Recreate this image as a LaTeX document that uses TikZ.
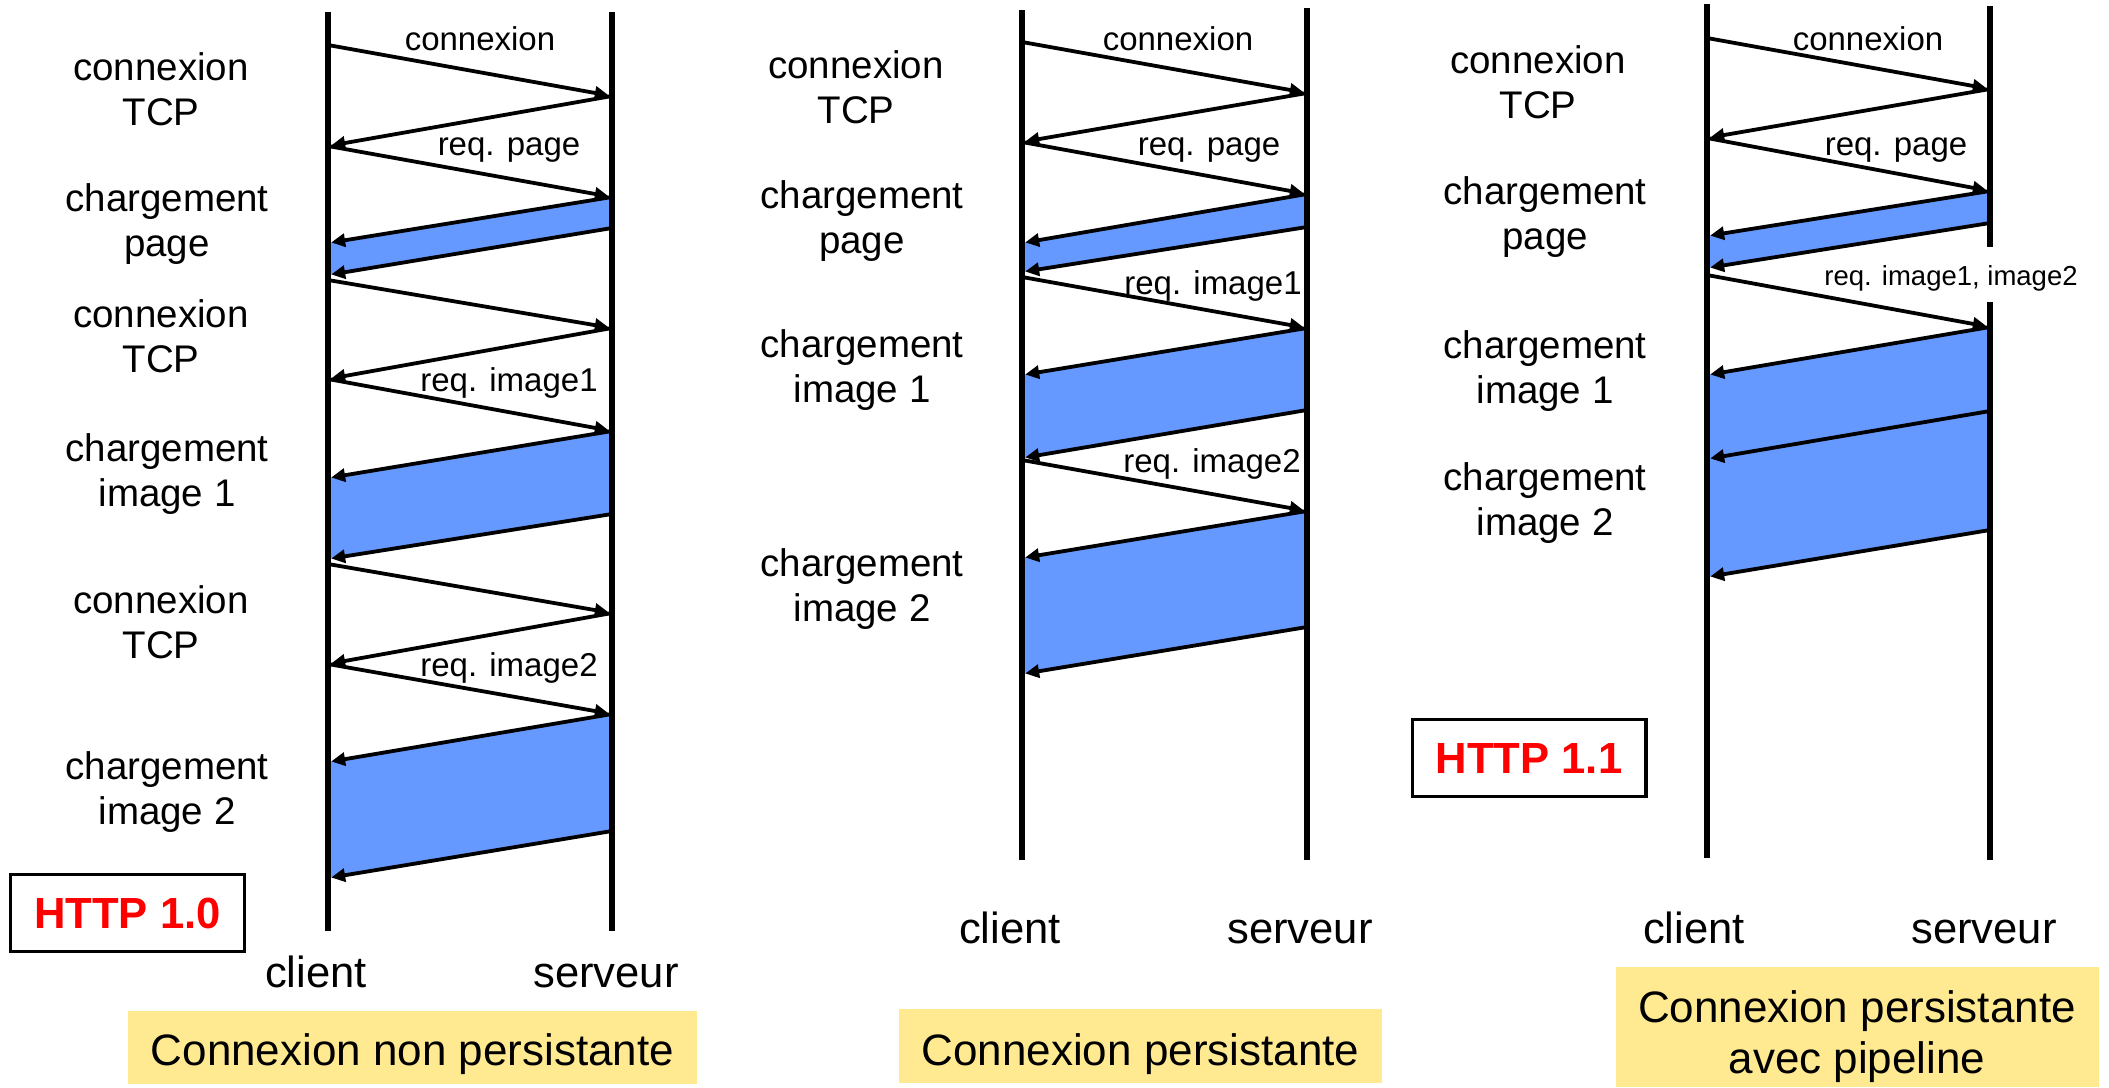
\documentclass[tikz,border=0pt]{standalone}
\usepackage{fontspec}
\setmainfont{Liberation Sans}
\usetikzlibrary{arrows.meta}

\definecolor{bleu}{RGB}{102,153,255}
\definecolor{jaune}{RGB}{255,234,145}
\tikzset{
  vie/.style={line width=3.3pt},
  msg/.style={line width=1.9pt,-{Triangle[length=7pt,width=6.5pt]},shorten >=1.6pt},
  bande/.style={fill=bleu},
  etape/.style={anchor=north,inner sep=0pt,align=center,font=\fontsize{19.25}{22.5}\selectfont},
  req/.style={anchor=base,inner sep=0pt,font=\fontsize{16.5}{18}\selectfont},
  bout/.style={anchor=base,inner sep=0pt,font=\fontsize{21.8}{25}\selectfont},
  version/.style={draw,line width=1.7pt,text=red,minimum width=116.8pt,minimum height=38.3pt,
    inner sep=0pt,font=\bfseries\fontsize{21.8}{25}\selectfont},
  titre/.style={anchor=north,inner sep=0pt,align=center,font=\fontsize{22}{25.5}\selectfont}
}

\begin{document}
\begin{tikzpicture}[x=0.5pt,y=-0.5pt]
\useasboundingbox (0,0) rectangle (2109,1087);
\fill[jaune] (128,1011) rectangle (697,1084);
\fill[jaune] (899,1009) rectangle (1382,1083);
\fill[jaune] (1616,967) rectangle (2099,1087);

% HTTP 1.0, connexion non persistante
\coordinate (a-ct) at (328,12); \coordinate (a-cb) at (328,931);
\coordinate (a-st) at (612,12); \coordinate (a-sb) at (612,931);
\foreach \i/\y in {1/45,2/146,3/243,4/275,5/280,6/379,7/478,8/559,9/564,10/664,11/762,12/878}
  \coordinate (a-c\i) at (328,\y);
\foreach \i/\y in {1/96,2/197,3/228,4/328,5/431,6/514,7/613,8/714,9/831}
  \coordinate (a-s\i) at (612,\y);
\foreach \pa/\pb/\pc/\pd in {s2/c3/c4/s3,s5/c7/c8/s6,s8/c11/c12/s9}
  \fill[bande] (a-\pa) -- (a-\pb) -- (a-\pc) -- (a-\pd) -- cycle;
\draw[vie] (a-ct) -- (a-cb);
\draw[vie] (a-st) -- (a-sb);
\foreach \de/\vers in {c1/s1,s1/c2,c2/s2,s2/c3,s3/c4,c5/s4,s4/c6,c6/s5,s5/c7,s6/c8,c9/s7,s7/c10,c10/s8,s8/c11,s9/c12}
  \draw[msg] (a-\de) -- (a-\vers);
\node[req] (a-r1) at (480,50) {connexion};
\node[req] (a-r2) at (509,155) {req. page};
\node[req] (a-r3) at (509,391) {req. image1};
\node[req] (a-r4) at (509,676) {req. image2};
\node[etape] (a-e1) at (161,52) {connexion\\TCP};
\node[etape] (a-e2) at (167,183) {chargement\\page};
\node[etape] (a-e3) at (161,299) {connexion\\TCP};
\node[etape] (a-e4) at (167,433) {chargement\\image 1};
\node[etape] (a-e5) at (161,585) {connexion\\TCP};
\node[etape] (a-e6) at (167,751) {chargement\\image 2};
\node[version] (a-v) at (127.5,913) {HTTP 1.0};
\node[bout] (a-cl) at (316,987) {client};
\node[bout] (a-sv) at (606,987) {serveur};
\node[titre] (a-ti) at (412.5,1033) {Connexion non persistante};

% connexion persistante
\coordinate (b-ct) at (1022,10); \coordinate (b-cb) at (1022,860);
\coordinate (b-st) at (1307,8); \coordinate (b-sb) at (1307,860);
\foreach \i/\y in {1/42,2/142,3/243,4/272,5/277,6/375,7/458,8/460,9/558,10/674}
  \coordinate (b-c\i) at (1022,\y);
\foreach \i/\y in {1/93,2/194,3/227,4/328,5/410,6/511,7/627}
  \coordinate (b-s\i) at (1307,\y);
\foreach \pa/\pb/\pc/\pd in {s2/c3/c4/s3,s4/c6/c7/s5,s6/c9/c10/s7}
  \fill[bande] (b-\pa) -- (b-\pb) -- (b-\pc) -- (b-\pd) -- cycle;
\draw[vie] (b-ct) -- (b-cb);
\draw[vie] (b-st) -- (b-sb);
\foreach \de/\vers in {c1/s1,s1/c2,c2/s2,s2/c3,s3/c4,c5/s4,s4/c6,s5/c7,c8/s6,s6/c9,s7/c10}
  \draw[msg] (b-\de) -- (b-\vers);
\node[req] (b-r1) at (1178,50) {connexion};
\node[req] (b-r2) at (1209,155) {req. page};
\node[req] (b-r3) at (1213,294) {req. image1};
\node[req] (b-r4) at (1212,472) {req. image2};
\node[etape] (b-e1) at (856,50) {connexion\\TCP};
\node[etape] (b-e2) at (862,180) {chargement\\page};
\node[etape] (b-e3) at (862,329) {chargement\\image 1};
\node[etape] (b-e4) at (862,548) {chargement\\image 2};
\node[bout] (b-cl) at (1010,943) {client};
\node[bout] (b-sv) at (1300,943) {serveur};
\node[titre] (b-ti) at (1140.5,1033) {Connexion persistante};

% HTTP 1.1, avec pipeline
\coordinate (c-ct) at (1707,4); \coordinate (c-cb) at (1707,858);
\coordinate (c-st) at (1990,6); \coordinate (c-sm) at (1990,247);
\coordinate (c-sr) at (1990,302); \coordinate (c-sb) at (1990,860);
\foreach \i/\y in {1/38,2/138,3/236,4/268,5/275,6/375,7/459,8/577}
  \coordinate (c-c\i) at (1707,\y);
\foreach \i/\y in {1/89,2/191,3/223,4/327,5/411,6/530}
  \coordinate (c-s\i) at (1990,\y);
\foreach \pa/\pb/\pc/\pd in {s2/c3/c4/s3,s4/c6/c7/s5,s5/c7/c8/s6}
  \fill[bande] (c-\pa) -- (c-\pb) -- (c-\pc) -- (c-\pd) -- cycle;
\draw[vie] (c-ct) -- (c-cb);
\draw[vie] (c-st) -- (c-sm);
\draw[vie] (c-sr) -- (c-sb);
\foreach \de/\vers in {c1/s1,s1/c2,c2/s2,s2/c3,s3/c4,c5/s4,s4/c6,s5/c7,s6/c8}
  \draw[msg] (c-\de) -- (c-\vers);
\node[req] (c-r1) at (1868,50) {connexion};
\node[req] (c-r2) at (1896,155) {req. page};
\node[req,font=\fontsize{13.75}{16}\selectfont] (c-r3) at (1951,285) {req. image1, image2};
\node[etape] (c-e1) at (1538,45) {connexion\\TCP};
\node[etape] (c-e2) at (1545,176) {chargement\\page};
\node[etape] (c-e3) at (1545,330) {chargement\\image 1};
\node[etape] (c-e4) at (1545,462) {chargement\\image 2};
\node[version] (c-v) at (1529,758) {HTTP 1.1};
\node[bout] (c-cl) at (1694,943) {client};
\node[bout] (c-sv) at (1984,943) {serveur};
\node[titre] (c-ti) at (1857,990) {Connexion persistante\\avec pipeline};
\end{tikzpicture}
\end{document}
